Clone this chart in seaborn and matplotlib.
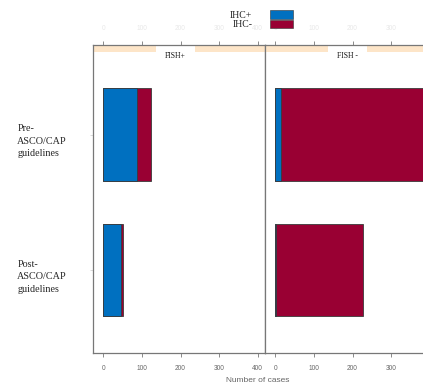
import matplotlib
matplotlib.use('Agg')
import matplotlib.pyplot as plt
import matplotlib.patches as mpatches
import matplotlib.transforms as mtransforms
import seaborn as sns
import pandas as pd

# data
periods = ['Pre-\nASCO/CAP\nguidelines', 'Post-\nASCO/CAP\nguidelines']
panels = ['FISH+', 'FISH -']
ihc_pos = {'FISH+': [87, 45], 'FISH -': [14, 1]}
ihc_neg = {'FISH+': [36, 5], 'FISH -': [396, 227]}
x_ticks = {'FISH+': [0, 100, 200, 300, 400], 'FISH -': [0, 100, 200, 300]}

blue = '#0070C0'
red = '#990033'
frame = '#777777'

sns.set_style('white')
plt.rcParams['font.family'] = ['Liberation Sans', 'DejaVu Sans']

W, H = 423, 387
fig = plt.figure(figsize=(W / 100, H / 100), dpi=100)

def px(x0, y0, x1, y1):
    return [x0 / W, 1 - y1 / H, (x1 - x0) / W, (y1 - y0) / H]

axes = [fig.add_axes(px(93, 45, 265, 353)), fig.add_axes(px(265, 45, 437, 353))]

for i, (ax, panel) in enumerate(zip(axes, panels)):
    totals = [p + n for p, n in zip(ihc_pos[panel], ihc_neg[panel])]
    df = pd.DataFrame({'period': periods, 'total': totals, 'pos': ihc_pos[panel]})
    sns.barplot(data=df, x='total', y='period', orient='h', color=red, width=0.68,
                edgecolor='#3a3a3a', linewidth=0.6, saturation=1, ax=ax)
    sns.barplot(data=df, x='pos', y='period', orient='h', color=blue, width=0.68,
                edgecolor='#3a3a3a', linewidth=0.6, saturation=1, ax=ax)
    ax.set_xlim(-27, 419)
    ax.set_ylim(1.61, -0.66)
    ax.set_xlabel('')
    ax.set_ylabel('')
    for s in ax.spines.values():
        s.set_color(frame)
        s.set_linewidth(0.9)
    ax.set_xticks(x_ticks[panel])
    ax.set_xticklabels([str(t) for t in x_ticks[panel]])
    ax.tick_params(axis='x', which='both', bottom=True, top=True, labeltop=True,
                   direction='out', length=3, width=0.6, color=frame,
                   labelsize=4.7, labelcolor='#666666', pad=6)
    # faint top tick labels
    for t in ax.xaxis.get_major_ticks():
        t.label2.set_color('#e8e8e8')
    if i == 0:
        ax.tick_params(axis='y', left=True, direction='out', length=2, width=0.5,
                       color='#cccccc', pad=52.5)
        shift = mtransforms.ScaledTranslation(0, -4 / 100, fig.dpi_scale_trans)
        for lbl in ax.get_yticklabels():
            lbl.set_ha('left')
            lbl.set_family(['Liberation Serif'])
            lbl.set_fontsize(7.3)
            lbl.set_linespacing(1.5)
            lbl.set_transform(lbl.get_transform() + shift)
    else:
        ax.tick_params(axis='y', left=False, labelleft=False)
    # strip
    ax.add_patch(mpatches.Rectangle((0, 1 - 7 / 308), 1, 7 / 308, transform=ax.transAxes,
                                    facecolor='#FDE5C8', edgecolor='none', zorder=0.5))
    ax.add_patch(mpatches.Rectangle((0.366, 1 - 8 / 308), 0.227, 8 / 308, transform=ax.transAxes,
                                    facecolor='white', edgecolor='none', zorder=0.6))
    ax.text(0.478, 1 - 11 / 308, panel, transform=ax.transAxes, ha='center', va='center',
            fontsize=5.5, family=['Liberation Serif'], color='#111111')

fig.text(258 / W, 1 - 381 / H, 'Number of cases', ha='center', va='center',
         fontsize=6, color='#666666')

handles = [mpatches.Patch(facecolor=blue, edgecolor='#333333', linewidth=0.4),
           mpatches.Patch(facecolor=red, edgecolor='#333333', linewidth=0.4)]
fig.legend(handles, ['IHC+', 'IHC-'], loc='upper left', bbox_to_anchor=(230 / W, 1 - 10 / H),
           frameon=False, markerfirst=False, labelspacing=0, handleheight=1.0,
           handlelength=2.4, handletextpad=1.8, borderpad=0, borderaxespad=0,
           prop={'family': 'Liberation Serif', 'size': 7})

fig.savefig('out.png', dpi=100)
